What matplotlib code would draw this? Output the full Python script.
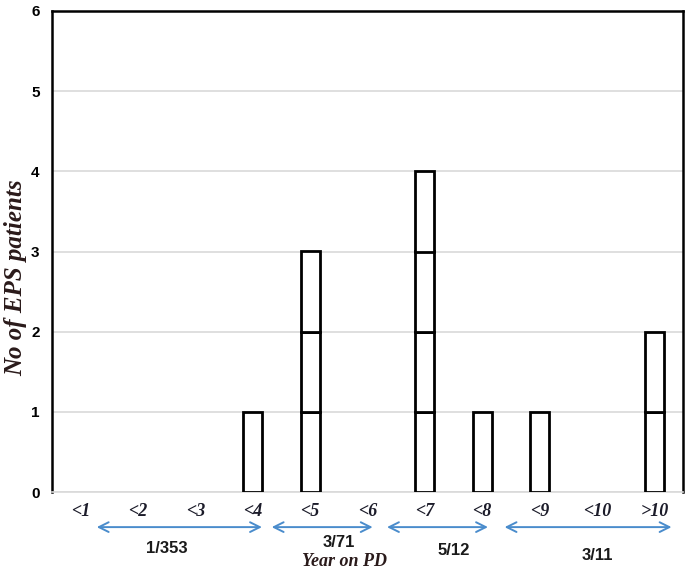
import numpy as np
import matplotlib
matplotlib.use('Agg')
import matplotlib.pyplot as plt

# Data
categories = ['<1', '<2', '<3', '<4', '<5', '<6', '<7', '<8', '<9', '<10', '>10']
patients = [0, 0, 0, 1, 3, 0, 4, 1, 1, 0, 2]

# ratio groups under the axis: label, first category, last category
group_labels = ['1/353', '3/71', '5/12', '3/11']
group_first = [0, 4, 6, 8]
group_last = [3, 5, 7, 10]

x_label = 'Year on PD'
y_label = 'No of EPS patients'

# drawing constants
arrow_color = '#4a8ccc'
grid_color = '#d9d9d9'
serif = ['Liberation Serif', 'DejaVu Serif']
sans = ['Liberation Sans', 'DejaVu Sans']

fig = plt.figure(figsize=(6.88, 5.72), dpi=100)
ax = fig.add_axes([52 / 688, 1 - 492 / 572, 631 / 688, 481 / 572])

x = np.arange(len(categories))
counts = np.array(patients)

# each patient drawn as its own unit block
for level in range(counts.max()):
    keep = counts > level
    ax.bar(x[keep], np.ones(keep.sum()), bottom=level, width=0.33,
           color='white', edgecolor='black', linewidth=2, zorder=3)

ax.set_xlim(-0.5, len(categories) - 0.5)
ax.set_ylim(0, 6)
ax.set_yticks(range(0, 7))
ax.yaxis.grid(True, color=grid_color, linewidth=1.2, zorder=0)
ax.set_axisbelow(True)

ax.set_xticks(x)
ax.set_xticklabels(categories, family=serif, style='italic',
                   fontweight='bold', fontsize=13, color='#1c1c2a')
ax.set_yticklabels([str(v) for v in range(0, 7)], family=sans,
                   fontweight='bold', fontsize=11, color='black')
ax.tick_params(axis='both', length=0)
ax.tick_params(axis='x', pad=8)
ax.tick_params(axis='y', pad=9)

for side in ['left', 'top', 'right']:
    ax.spines[side].set_color('black')
    ax.spines[side].set_linewidth(1.8)
ax.spines['bottom'].set_color(grid_color)
ax.spines['bottom'].set_linewidth(1.2)

ax.set_ylabel(y_label, family=serif, style='italic', fontweight='bold',
              fontsize=18, color='#2a1a1a')
ax.yaxis.set_label_coords(-0.039, 0.445)

# double headed arrows spanning the year groups
trans = ax.get_xaxis_transform()
arrow_start = [0.28, 3.33, 5.34, 7.39]
arrow_end = [3.16, 5.09, 7.10, 10.30]
label_y = [-0.1185, -0.106, -0.1206, -0.131]
for i, lab in enumerate(group_labels):
    ax.annotate('', xy=(arrow_end[i], -0.073), xytext=(arrow_start[i], -0.073),
                xycoords=trans, textcoords=trans, annotation_clip=False,
                arrowprops=dict(arrowstyle='<->,head_length=0.7,head_width=0.35',
                                color=arrow_color, lw=1.4,
                                shrinkA=0, shrinkB=0))
    mid = (group_first[i] + group_last[i]) / 2
    if i == 0:
        mid = 1.5
    ax.text(mid, label_y[i], lab, transform=trans, ha='center', va='center',
            family=sans, fontweight='bold', fontsize=12, color='#1a1a1a')

ax.text(4.6, -0.1455, x_label, transform=trans, ha='center', va='center',
        family=serif, style='italic', fontweight='bold', fontsize=13,
        color='#2a1a1a')

fig.savefig('out.png', dpi=100)
